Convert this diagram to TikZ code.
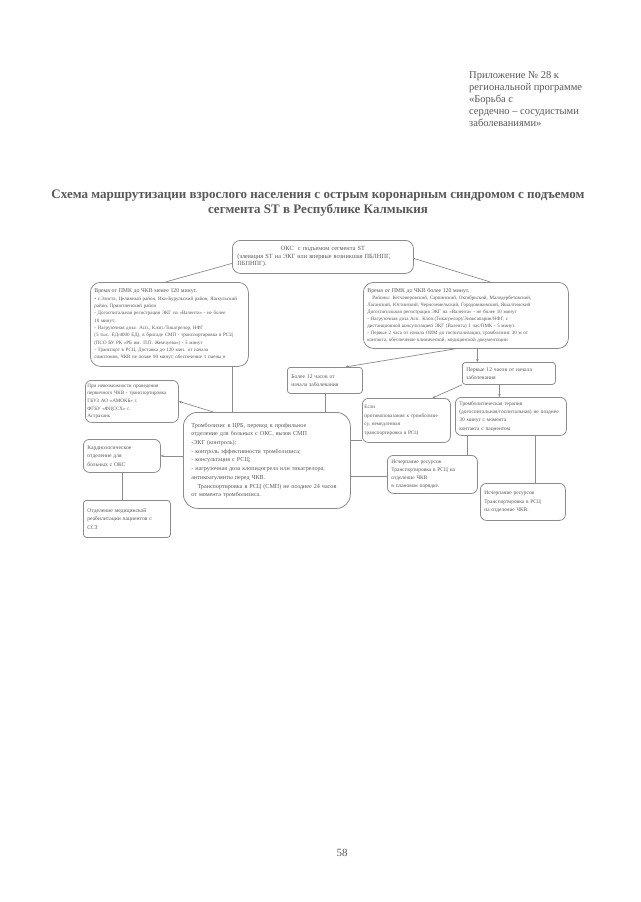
\documentclass[tikz,border=0pt]{standalone}
\usepackage{fontspec}
\setmainfont{Liberation Serif}
\usetikzlibrary{arrows.meta}
\definecolor{txt}{HTML}{585858}
\definecolor{ln}{HTML}{8C8C8C}
\newcommand\fz[2]{\fontsize{#1}{#2}\selectfont}
\begin{document}
\begin{tikzpicture}[x=1pt,y=-1pt,
  box/.style={draw=ln, line width=0.8pt, rounded corners=6pt, text=txt,
    inner xsep=4pt, inner ysep=2pt, align=left, anchor=north west},
  conn/.style={draw=ln, line width=0.7pt},
  arr/.style={conn, -{Stealth[length=3pt,width=2.6pt]}}]
\path[use as bounding box, fill=white] (0,0) rectangle (640,902);

% header and title
\node[anchor=north west, align=left, text=txt, font=\fz{10.5}{12.2}, inner sep=0pt] (hdr) at (469,71)
  {Приложение № 28 к\\региональной программе\\«Борьба с\\сердечно – сосудистыми\\заболеваниями»};
\node[align=center, text=txt, font=\bfseries\fz{13}{15.5}, inner sep=0pt] (title) at (318,203)
  {Схема маршрутизации взрослого населения с острым коронарным синдромом с подъемом\\сегмента ST в Республике Калмыкия};

% boxes
\node[box, rounded corners=8pt, minimum width=181pt, minimum height=33pt, text width=171pt, font=\fz{6.3}{7.6}] (top) at (232,240)
  {\makebox[\linewidth]{ОКС\ \ с подъемом сегмента ST}\\(элевация ST на ЭКГ или впервые возникшая ПБЛНПГ,\\ПБПНПГ).};

\node[box, rounded corners=10pt, minimum width=158pt, minimum height=84pt, text width=150pt, font=\fz{5}{7.3}] (lb) at (90,282)
  {{\fz{5.8}{7.3}Время от ПМК до ЧКВ менее 120 минут.}\\
   • г.Элиста, Целинный район, Ики-Бурульский район, Яшкульский\\
   район, Приютненский район\\
   - Догоспитальная регистрация ЭКГ на «Валента» - не более\\
   10 минут;\\
   - Нагрузочная доза: Асп., Клоп./Тикагрелор, НФГ\\
   (5 тыс. ЕД/4000 ЕД), в бригаде СМП - транспортировка в РСЦ\\
   (ПСО БУ РК «РБ им. П.П. Жемчуева») - 5 минут\\
   - Транспорт в РСЦ. Доставка до 120 мин. от начала\\
   симптомов, ЧКВ не позже 90 минут, обеспечение 1 смены в};

\node[box, rounded corners=10pt, minimum width=205pt, minimum height=66pt, text width=197pt, font=\fz{5}{6.9}] (rb) at (363,282)
  {{\fz{5.8}{6.9}Время от ПМК до ЧКВ более 120 минут.}\\
   \quad Районы: Кетченеровский, Сарпинский, Октябрьский, Малодербетовский,\\
   Лаганский, Юстинский, Черноземельский, Городовиковский, Яшалтинский\\
   Догоспитальная регистрация ЭКГ на «Валента» - не более 10 минут\\
   - Нагрузочная доза Асп. Клоп.(Тикагрелор)/Эноксапарин/НФГ, с\\
   дистанционной консультацией ЭКГ (Валента) 1 час/ПМК - 5 минут.\\
   - Первые 2 часа от начала ОИМ до госпитализации, тромболизис 30 м от\\
   контакта, обеспечение клинической, медицинской документации};

\node[box, rounded corners=3pt, minimum width=75pt, minimum height=26pt, text width=67pt, font=\fz{5.6}{8}] (bol) at (287,367)
  {Более 12 часов от\\начала заболевания};
\node[box, rounded corners=3pt, minimum width=93pt, minimum height=22pt, text width=85pt, font=\fz{5.6}{8}] (perv) at (462,362)
  {Первые 12 часов от начала\\заболевания};
\node[box, minimum width=88pt, minimum height=44pt, text width=84pt, inner xsep=2pt, font=\fz{5.2}{8.6}] (esli) at (362,398)
  {Если\\противопоказания к тромболизи-\\су, немедленная\\транспортировка в РСЦ};
\node[box, minimum width=111pt, minimum height=38pt, text width=103pt, font=\fz{5.4}{8.2}] (tromb) at (455,397)
  {Тромболитическая терапия\\(догоспитальная/госпитальная) не позднее\\30 минут с момента\\контакта с пациентом};

\node[box, rounded corners=14pt, minimum width=167pt, minimum height=96pt, text width=151pt, inner xsep=8pt, font=\fz{6.1}{8.7}] (ctr) at (183,412)
  {Тромболизис в ЦРБ, перевод в профильное\\
   отделение для больных с ОКС, вызов СМП\\
   -ЭКГ (контроль);\\
   - контроль эффективности тромболизиса;\\
   - консультация с РСЦ;\\
   - нагрузочная доза клопидогрела или тикагрелора,\\
   антикоагулянты перед ЧКВ.\\
   \quad Транспортировка в РСЦ (СМП) не позднее 24 часов\\
   от момента тромболизиса.};

\node[box, minimum width=93pt, minimum height=42pt, text width=89pt, inner xsep=2pt, font=\fz{5.1}{7.6}] (pri) at (85,380)
  {При невозможности проведения\\первичного ЧКВ - транспортировка\\ГБУЗ АО «АМОКБ» г.\\ФГБУ «ФЦССХ» г.\\Астрахань};
\node[box, minimum width=77pt, minimum height=33pt, text width=69pt, font=\fz{5.6}{8.4}] (kard) at (83,439)
  {Кардиологическое\\отделение для\\больных с ОКС};
\node[box, rounded corners=3pt, minimum width=87pt, minimum height=37pt, text width=79pt, font=\fz{5.6}{8.4}] (reab) at (83,500)
  {Отделение медицинской\\реабилитации пациентов с\\ССЗ};
\node[box, minimum width=90pt, minimum height=38pt, text width=82pt, font=\fz{5.4}{8}] (isch1) at (387,455)
  {Исчерпание ресурсов\\Транспортировка в РСЦ на\\отделение ЧКВ\\в плановом порядке.};
\node[box, minimum width=85pt, minimum height=37pt, text width=77pt, font=\fz{5.4}{8.4}] (isch2) at (480,483)
  {Исчерпание ресурсов\\Транспортировка в РСЦ\\на отделение ЧКВ.};

\node[text=txt, font=\fz{11}{13}, inner sep=0pt] (pg) at (342,853) {58};

% connectors
\draw[conn] ([yshift=-6.5pt]top.west) -- ([xshift=-4pt]lb.north);
\draw[conn] ([yshift=-1.5pt]top.east) -- ([xshift=24.5pt]rb.north);
\draw[conn] ([xshift=63pt]lb.south) -- ([xshift=63pt]lb.south |- ctr.north);
\draw[arr] ([xshift=-53.5pt]ctr.north) -- (pri.east);
\draw[arr] (kard.east -| ctr.west) -- (kard.east);
\draw[conn] (kard.south) -- (kard.south |- reab.north);
\draw[arr] ([xshift=-10.5pt]rb.south) -- ([xshift=20.5pt]bol.north);
\draw[arr] ([xshift=11.5pt]rb.south) -- ([xshift=11.5pt]rb.south |- perv.north);
\draw[conn] (bol.south) -- (bol.south |- ctr.north);
\draw[arr] (perv.south west) -- ([xshift=26pt]esli.north);
\draw[arr] ([xshift=-9.5pt]perv.south) -- ([xshift=-9.5pt]perv.south |- tromb.north);
\draw[conn] ([xshift=-43.5pt]tromb.south) -- ([xshift=-43.5pt]tromb.south |- isch1.north);
\draw[conn] ([xshift=24.5pt]tromb.south) -- ([xshift=24.5pt]tromb.south |- isch2.north);
\draw[conn] ([yshift=20pt]ctr.east) -- ([yshift=20pt]ctr.east -| esli.west);
\draw[conn] ([yshift=-16pt]ctr.east) -- ([yshift=-16pt]ctr.east -| isch1.west);
\end{tikzpicture}
\end{document}
